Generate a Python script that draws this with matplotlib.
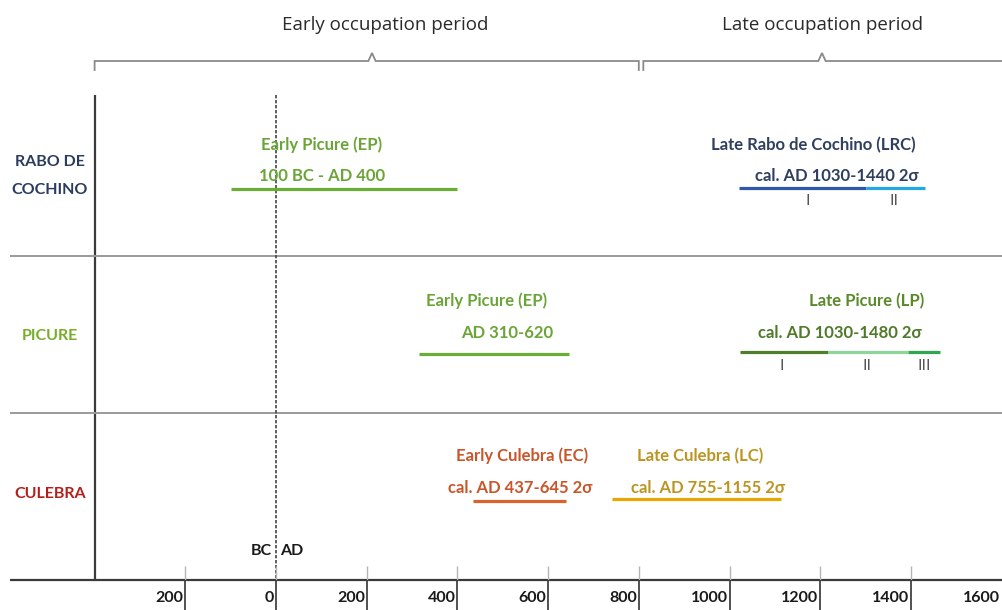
import matplotlib
matplotlib.use("Agg")
import matplotlib.pyplot as plt
from matplotlib import font_manager

# ---------------- data ----------------
tick_years = [-200, 0, 200, 400, 600, 800, 1000, 1200, 1400, 1600]
tick_labels = ["200", "0", "200", "400", "600", "800", "1000", "1200", "1400", "1600"]

sites = ["RABO DE\nCOCHINO", "PICURE", "CULEBRA"]
site_colors = ["#2c3c5e", "#78ad2c", "#b3201c"]

# phase ranges (start, end) in calendar years (negative = BC)
ep_rc = [(-100, 400)]
lrc = [(1020, 1300), (1300, 1430)]
ep_pic = [(315, 645)]
lp = [(1023, 1217), (1217, 1394), (1394, 1464)]
ec = [(434, 640)]
lc = [(741, 1114)]

period_names = ["Early occupation period", "Late occupation period"]
period_spans = [(-400, 800), (810, 1603)]

# ---------------- figure ----------------
W, H = 1003, 610
fig = plt.figure(figsize=(W / 100, H / 100), dpi=100)
ax = fig.add_axes([0, 0, 1, 1])
x0_px, scale = 276.0, 90.7 / 200.0
ax.set_xlim(-x0_px / scale, (W - x0_px) / scale)
ax.set_ylim(H, 0)
ax.axis("off")

avail = {f.name for f in font_manager.fontManager.ttflist}
narrow = "Lato" if "Lato" in avail else "DejaVu Sans"
title_font = "Open Sans" if "Open Sans" in avail else "DejaVu Sans"

def yr(px):
    return (px - x0_px) / scale

# grid frame
ax.hlines(580, yr(10), yr(1003), color="#3a3a3a", lw=1.6)
ax.vlines(-400, 95, 580, color="#3a3a3a", lw=1.6)
ax.hlines([256, 413], yr(10), yr(1003), color="#9a9a9a", lw=1.4)
ax.vlines(0, 95, 580, color="#444444", lw=1.2, linestyles=(0, (2, 1)))

# ticks
for t, lab in zip(tick_years, tick_labels):
    if t < 1600:
        ax.vlines(t, 566, 580, color="#b5b5b5", lw=1.0)
        ax.vlines(t, 580, 610, color="#333333", lw=1.2)
    ax.text(t - 4, 598, lab, ha="right", va="center", fontsize=11.5,
            fontfamily=narrow, fontweight="bold", color="#1a1a1a")

ax.text(-8, 551, "BC", ha="right", va="center", fontsize=11.5, fontfamily=narrow,
        fontweight="bold", color="#1a1a1a")
ax.text(8, 551, "AD", ha="left", va="center", fontsize=11.5, fontfamily=narrow,
        fontweight="bold", color="#1a1a1a")

# braces
def brace(x1, x2, xm, y=61, drop=9, peak=8):
    xs = [x1, x1, xm - 8, xm, xm + 8, x2, x2]
    ys = [y + drop, y, y, y - peak, y, y, y + drop]
    ax.plot(xs, ys, color="#8a8a8a", lw=1.3, solid_joinstyle="miter")

brace(period_spans[0][0], period_spans[0][1], yr(372))
brace(period_spans[1][0], period_spans[1][1], yr(822))
ax.text(yr(385), 25, period_names[0], ha="center", va="center", fontsize=13.5,
        fontfamily=title_font, color="#2a2a2a")
ax.text(yr(823), 25, period_names[1], ha="center", va="center", fontsize=13.5,
        fontfamily=title_font, color="#2a2a2a")

# site labels
site_y = [176, 336, 494]
site_x = [50, 50, 50]
for s, c, y, x in zip(sites, site_colors, site_y, site_x):
    ax.text(yr(x), y, s, ha="center", va="center", multialignment="center",
            fontsize=11.5, fontfamily=narrow, fontweight="bold", color=c,
            linespacing=2.3)

def seg(ranges, colors, y, lw=2.3):
    for (a, b), c in zip(ranges, colors):
        ax.hlines(y, a, b, color=c, lw=lw)

def lbl(xpx, y, s, c, ha="center", size=12, weight="bold"):
    ax.text(yr(xpx), y, s, ha=ha, va="center", fontsize=size, fontfamily=narrow,
            fontweight=weight, color=c)

# Rabo de Cochino
seg(ep_rc, ["#6aae35"], 189)
lbl(322, 145, "Early Picure (EP)", "#6aa537")
lbl(322, 176, "100 BC - AD 400", "#6aa537")
seg(lrc, ["#2f58ab", "#23a8e2"], 188)
lbl(813, 145, "Late Rabo de Cochino (LRC)", "#2f3f5f")
lbl(837, 176, "cal. AD 1030-1440 2σ", "#2f3f5f")
lbl(808, 201, "I", "#555555", size=11.5, weight="normal")
lbl(894, 201, "II", "#555555", size=11.5, weight="normal")

# Picure
seg(ep_pic, ["#6aae35"], 354)
lbl(487, 301, "Early Picure (EP)", "#6aa537")
lbl(507, 333, "AD 310-620", "#6aa537")
seg(lp, ["#4f7f2b", "#8fd49a", "#2ea84e"], 352)
lbl(867, 301, "Late Picure (LP)", "#5a8a2a")
lbl(840, 333, "cal. AD 1030-1480 2σ", "#4f7a2a")
lbl(782, 366, "I", "#555555", size=11.5, weight="normal")
lbl(867, 366, "II", "#555555", size=11.5, weight="normal")
lbl(924, 366, "III", "#555555", size=11.5, weight="normal")

# Culebra
seg(ec, ["#d8642c"], 501)
lbl(522, 456, "Early Culebra (EC)", "#c9552a")
lbl(520, 488, "cal. AD 437-645 2σ", "#c9552a")
seg(lc, ["#e9a800"], 499)
lbl(700, 456, "Late Culebra (LC)", "#bd9420")
lbl(708, 488, "cal. AD 755-1155 2σ", "#bd9420")

fig.savefig("out.png", dpi=100, facecolor="white")
